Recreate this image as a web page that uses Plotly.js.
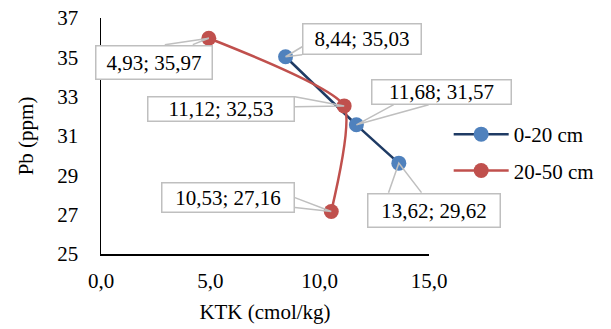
<!DOCTYPE html>
<html>
<head>
<meta charset="utf-8">
<script src="https://cdn.plot.ly/plotly-3.0.1.min.js"></script>
<style>html,body{margin:0;padding:0;background:#fff;} #chart{width:611px;height:329px;}</style>
</head>
<body>
<div id="chart"></div>
<script>
// ---- data ----
const seriesNames = ["0-20 cm", "20-50 cm"];
const ktk020 = [8.44, 11.68, 13.62];
const pb020 = [35.03, 31.57, 29.62];
const ktk2050 = [4.93, 11.12, 10.53];
const pb2050 = [35.97, 32.53, 27.16];
const xTicks = [0, 5, 10, 15];
const yTicks = [25, 27, 29, 31, 33, 35, 37];

// ---- label placement (pixel offsets of box centre from the point, box size, wedge base) ----
const labelPlace020 = [
  {dx: 76.6, dy: -18, w: 120, h: 32, wedge: [[16.6, -10], [16.6, -2]]},
  {dx: 84.8, dy: -33, w: 141, h: 26, wedge: [[37.3, -20.1], [72.3, -20.1]]},
  {dx: 34.7, dy: 47, w: 134, h: 35, wedge: [[-10.3, 29.5], [22.7, 29.5]]}
];
const labelPlace2050 = [
  {dx: -55, dy: 24, w: 118, h: 35, wedge: [[-44, 6.4], [-16, 6.4]]},
  {dx: -123.3, dy: 2.8, w: 148, h: 26, wedge: [[-49.3, -9.2], [-49.3, 0.8]]},
  {dx: -103.4, dy: -14.4, w: 134, h: 31, wedge: [[-36.4, -13.9], [-36.4, -3.9]]}
];

const FONT = "Liberation Serif, Times New Roman, serif";
const fmt = v => v.toFixed(2).replace('.', ',');

const traces = [
  {x: ktk020, y: pb020, name: seriesNames[0], type: 'scatter', mode: 'lines+markers',
   line: {color: '#1F3B64', width: 2.5, shape: 'spline', smoothing: 0.55},
   marker: {color: '#4F81BD', size: 15}, legendgroup: 'a'},
  {x: ktk2050, y: pb2050, name: seriesNames[1], type: 'scatter', mode: 'lines+markers',
   line: {color: '#C0504D', width: 2.5, shape: 'spline', smoothing: 0.55},
   marker: {color: '#C0504D', size: 15}, legendgroup: 'b'}
];

const annotations = [];
const shapes = [];
function addLabels(xs, ys, places) {
  xs.forEach((xv, i) => {
    const p = places[i];
    const yv = ys[i];
    const b1 = p.wedge[0], b2 = p.wedge[1];
    shapes.push({type: 'path', xref: 'x', yref: 'y', xsizemode: 'pixel', ysizemode: 'pixel',
      xanchor: xv, yanchor: yv,
      path: `M${b1[0]},${-b1[1]} L0,0 L${b2[0]},${-b2[1]}`,
      line: {color: '#BFBFBF', width: 1.5}, fillcolor: 'rgba(0,0,0,0)', layer: 'above'});
    annotations.push({x: xv, y: yv, xref: 'x', yref: 'y', showarrow: false,
      text: fmt(xv) + '; ' + fmt(yv),
      xshift: p.dx, yshift: -p.dy, xanchor: 'center', yanchor: 'middle',
      width: p.w - 3, height: p.h - 3, borderpad: 0, borderwidth: 1.5,
      bordercolor: '#BFBFBF', bgcolor: '#FFFFFF',
      font: {family: FONT, size: 21, color: '#000'}});
  });
}
addLabels(ktk020, pb020, labelPlace020);
addLabels(ktk2050, pb2050, labelPlace2050);

const layout = {
  width: 611, height: 329,
  margin: {l: 101, r: 180, t: 18, b: 75, pad: 0},
  paper_bgcolor: '#fff', plot_bgcolor: '#fff',
  separators: ',.',
  font: {family: FONT, size: 21, color: '#000'},
  showlegend: true,
  legend: {x: 1.06, xanchor: 'left', y: 0.43, yanchor: 'middle', tracegroupgap: 6, itemwidth: 55,
           font: {family: FONT, size: 21, color: '#000'}, bgcolor: 'rgba(0,0,0,0)'},
  xaxis: {range: [0, 15], tickvals: xTicks, tickformat: '.1f', showgrid: false, zeroline: false,
          showline: true, linecolor: '#000', linewidth: 1.5, ticks: '', automargin: false,
          ticklabelstandoff: 7,
          tickfont: {family: FONT, size: 21, color: '#000'},
          title: {text: 'KTK (cmol/kg)', standoff: 12, font: {family: FONT, size: 21, color: '#000'}}},
  yaxis: {range: [25, 37], tickvals: yTicks, showgrid: false, zeroline: false,
          showline: true, linecolor: '#000', linewidth: 1.5, ticks: '', automargin: false,
          ticklabelstandoff: 17,
          tickfont: {family: FONT, size: 21, color: '#000'},
          title: {text: 'Pb (ppm)', standoff: 18, font: {family: FONT, size: 21, color: '#000'}}},
  annotations: annotations,
  shapes: shapes
};

Plotly.newPlot('chart', traces, layout, {displayModeBar: false, staticPlot: true});
</script>
</body>
</html>
